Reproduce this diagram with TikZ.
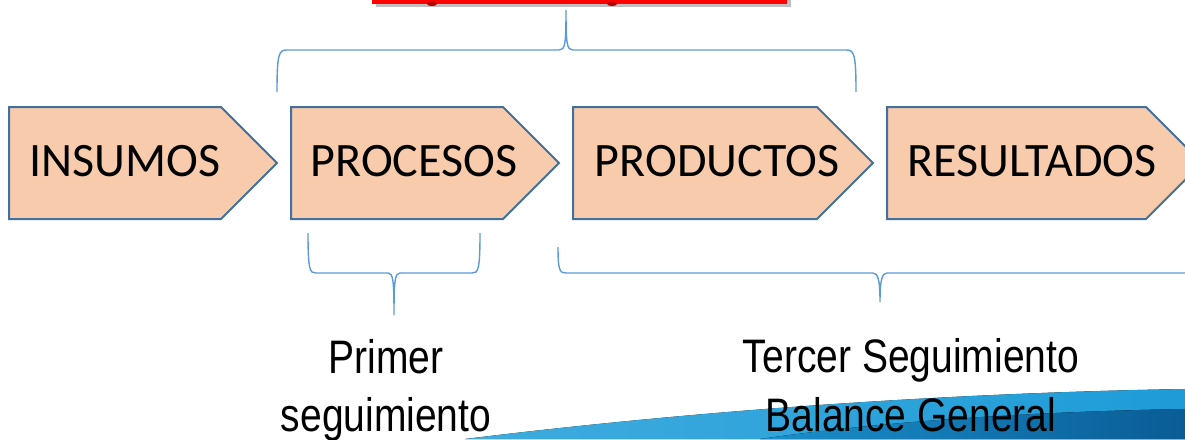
\documentclass[tikz,border=0pt]{standalone}
\usepackage{fontspec}
\setmainfont{Carlito}
\newfontfamily\notefont[FakeStretch=0.83]{Liberation Sans}
\usepackage{tikz}

\definecolor{stagefill}{HTML}{F8CBAD}
\definecolor{stageline}{HTML}{41719C}
\definecolor{bracecol}{HTML}{5B9BD5}
\definecolor{swooshlight}{HTML}{1E9CD8}
\definecolor{swooshdark}{HTML}{0A5C96}

\tikzset{
	stage/.style={fill=stagefill, draw=stageline, line width=2pt},
	stagetext/.style={font=\fontsize{48}{52}\selectfont, inner sep=0pt, anchor=base},
	bracket/.style={draw=bracecol, line width=1.4pt},
	note/.style={font=\notefont\fontsize{47}{54}\selectfont, inner sep=0pt, anchor=base}
}

\begin{document}
\begin{tikzpicture}[x=1pt,y=-1pt]
	\clip (0,0) rectangle (1185,439);
	\pgfmathsetmacro{\tip}{56}
	
	% Swoosh at the bottom
	\fill[left color=swooshlight!85, right color=swooshlight] (465,439) .. controls (700,410) and (950,393) .. (1185,389) -- (1185,439) -- cycle;
	\fill[left color=swooshlight!80!swooshdark, right color=swooshdark] (760,439) .. controls (880,422) and (1020,412) .. (1185,409) -- (1185,439) -- cycle;
	
	% Red title bar (cut off)
	\fill[black!25] (376,-4) rectangle (791,7);
	\fill[red] (372,-4) rectangle (787,4);
	\fill[red!70!black] (432,4) ellipse (5 and 2);
	\fill[red!70!black] (612,4) ellipse (5 and 2);
	
	% Stages
	\foreach \x/\w/\tx/\name/\lbl in {9/212/125/ins/INSUMOS, 291/212/414/proc/PROCESOS, 573/244/717/prod/PRODUCTOS, 887/259/1032/res/RESULTADOS} {
		\draw[stage] (\x,107) -- (\x+\w,107) -- (\x+\w+\tip,163) -- (\x+\w,219) -- (\x,219) -- cycle;
		\node[stagetext] (\name) at (\tx,176) {\lbl};
	}
	
	% Braces
	\draw[bracket] (277,92) .. controls (277,53) and (279,50) .. (287,50) -- (559,50) .. controls (565,50) and (566,45) .. (566,10)
		.. controls (566,45) and (567,50) .. (573,50) -- (846,50) .. controls (854,50) and (856,53) .. (856,92);
	\draw[bracket] (308,233) .. controls (308,271) and (310,273) .. (316,273) -- (388,273) .. controls (393,273) and (394,280) .. (394,315)
		.. controls (394,280) and (395,273) .. (400,273) -- (472,273) .. controls (478,273) and (480,271) .. (480,233);
	\draw[bracket] (558,247) .. controls (558,271) and (560,273) .. (566,273) -- (873,273) .. controls (878,273) and (880,280) .. (880,302)
		.. controls (880,280) and (882,273) .. (887,273) -- (1190,273);
	
	% Notes
	\node[note] (prim1) at (386,373) {Primer};
	\node[note] (prim2) at (386,431) {seguimiento};
	\node[note] (terc1) at (911,372) {Tercer Seguimiento};
	\node[note] (terc2) at (911,431) {Balance General};
	
\end{tikzpicture}
\end{document}
